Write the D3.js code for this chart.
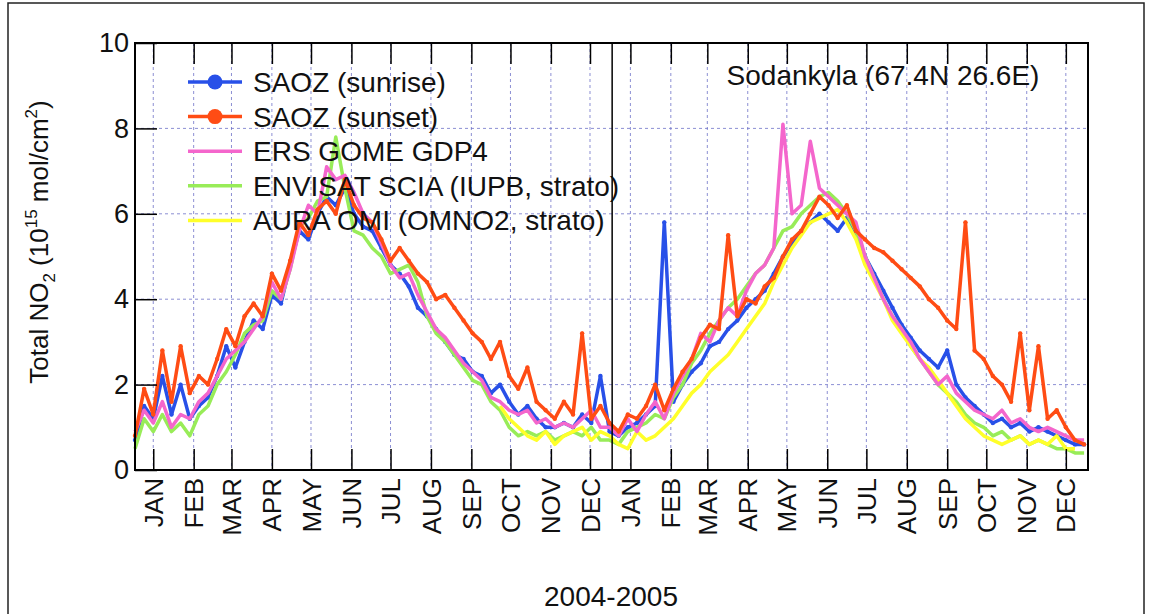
<!DOCTYPE html>
<html>
<head>
<meta charset="utf-8">
<style>
	body { margin: 0; background: #fff; }
	text { font-family: "Liberation Sans", Arial, sans-serif; fill: #111; }
</style>
</head>
<body>
<svg id="chart" width="1151" height="614"></svg>
<script src="https://cdnjs.cloudflare.com/ajax/libs/d3/7.8.5/d3.min.js"></script>
<script>
	// weekly values, starting 2004-01-01
	var start = new Date(2004, 0, 1);
	var omiStart = new Date(2004, 9, 7);

	var saozSunset = [0.8,1.9,1.3,2.8, 1.6,2.9,1.8,2.2, 2.0,2.6,3.3,2.9,3.6, 3.9,3.6,4.6,4.2, 4.9,5.8,5.5,6.1, 6.3,6.0,6.8,6.2,5.9, 5.8,5.4,4.9,5.2, 4.9,4.6,4.4,4.0,4.1, 3.8,3.5,3.2,3.0, 2.6,3.0,2.2,1.9,2.4, 1.6,1.4,1.2,1.6, 1.3,3.2,1.2,1.5,
		1.1,0.9,1.3,1.2, 1.5,2.0,1.4,1.9, 2.3,2.6,3.1,3.4,3.3, 5.5,3.6,4.0,3.9, 4.3,4.5,5.0,5.4, 5.6,6.0,6.4,6.2,5.9, 6.2,5.6,5.4,5.2, 5.1,4.9,4.7,4.5,4.3, 4.0,3.8,3.5,3.3, 5.8,2.8,2.6,2.2,2.0, 1.6,3.2,1.4,2.9, 1.2,1.4,1.0,0.7, 0.6];
	var saozSunrise = [0.7,1.5,1.2,2.2, 1.3,2.0,1.2,1.5, 1.7,2.2,2.9,2.4,3.0, 3.5,3.3,4.1,3.9, 4.8,5.6,5.4,6.0, 6.4,6.2,6.6,6.0,5.7, 5.6,5.2,4.8,4.6, 4.3,3.8,3.6,3.3,3.0, 2.7,2.6,2.3,2.2, 1.8,2.0,1.6,1.3,1.5, 1.2,1.0,1.0,1.1, 1.0,1.3,1.1,2.2,
		0.9,0.8,1.0,1.1, 1.3,1.5,5.8,1.6, 2.0,2.3,2.5,2.9,3.0, 3.3,3.5,3.8,4.0, 4.2,4.6,5.0,5.3, 5.6,5.8,6.0,5.8,5.6, 5.9,5.5,5.0,4.6, 4.2,3.8,3.4,3.1,2.8, 2.6,2.4,2.8,2.0, 1.7,1.5,1.3,1.1,1.2, 1.0,1.1,0.9,1.0, 0.9,0.8,0.7,0.6, 0.6];
	var gome = [0.9,1.4,1.1,1.6, 1.0,1.3,1.2,1.6, 1.8,2.2,2.6,2.8,3.0, 3.3,3.6,4.4,4.0, 4.7,5.6,6.2,6.0, 7.1,6.8,6.9,6.5,6.0, 5.8,5.3,4.8,4.5, 4.6,4.1,3.7,3.3,3.1, 2.8,2.5,2.3,2.1, 1.7,1.6,1.4,1.3,1.4, 1.1,1.2,1.0,1.1, 1.0,1.2,1.4,1.0,
		1.0,0.8,1.2,0.9, 1.3,1.6,1.2,1.8, 2.2,2.6,3.2,3.0,3.5, 3.8,3.6,4.2,4.6, 4.8,5.2,8.1,6.0, 6.2,7.7,6.6,6.4,6.2, 6.0,5.8,5.0,4.5, 4.0,3.6,3.3,3.0,2.6, 2.3,2.0,2.2,1.8, 1.6,1.4,1.3,1.2,1.4, 1.1,1.2,1.0,0.9, 1.0,0.9,0.8,0.7, 0.7];
	var scia = [0.5,1.2,0.9,1.3, 0.9,1.1,0.8,1.3, 1.5,2.0,2.3,2.7,3.2, 3.4,3.5,4.2,4.0, 4.7,5.7,5.9,6.3, 6.4,7.8,6.6,5.6,5.5, 5.2,5.0,4.6,4.7, 4.8,4.4,3.6,3.2,3.0, 2.7,2.4,2.1,2.0, 1.6,1.4,1.0,0.8,0.9, 0.8,0.9,0.7,0.8, 0.9,0.8,1.0,0.7,
		0.7,0.6,0.9,1.0, 1.1,1.3,1.2,1.7, 2.0,2.5,2.8,3.2,3.5, 3.8,4.0,4.3,4.6, 4.8,5.2,5.6,5.7, 6.0,6.2,6.4,6.5,6.3, 6.0,5.6,5.0,4.5, 4.0,3.6,3.3,2.9,2.6, 2.3,2.0,1.8,1.6, 1.3,1.1,1.0,0.8,0.9, 0.7,0.8,0.6,0.7, 0.6,0.5,0.5,0.4, 0.4];
	var omi = [1.5,1.2,1.0,0.8, 0.7,0.9,0.6,0.8, 0.9,1.0,0.7,0.9,
		0.8,0.6,0.5,0.9, 0.7,0.8,1.0,1.2, 1.5,1.8,2.0,2.3,2.5, 2.7,3.0,3.3,3.6, 3.9,4.4,4.8,5.2, 5.5,5.8,5.9,6.0,6.1, 5.8,5.4,4.8,4.4, 4.0,3.5,3.2,2.9,2.6, 2.4,2.1,1.8,1.5, 1.2,1.0,0.8,0.7,0.6, 0.7,0.8,0.6,0.7, 0.6,0.8,0.5,0.5];

	var monthLabels = ["JAN","FEB","MAR","APR","MAY","JUN","JUL","AUG","SEP","OCT","NOV","DEC"];
	var yTicks = [0, 2, 4, 6, 8, 10];
	var legendNames = ["SAOZ (sunrise)", "SAOZ (sunset)", "ERS GOME GDP4", "ENVISAT SCIA (IUPB, strato)", "AURA OMI (OMNO2, strato)"];
	var colors = ["#2850e8", "#ff4c14", "#f466cc", "#98ec58", "#ffff2a"];

	var svg = d3.select("#chart");
	var L = 135, R = 1088, T = 43, B = 470;

	var x = d3.scaleTime().domain([new Date(2004, 0, 1), new Date(2006, 0, 1)]).range([L, R]);
	var y = d3.scaleLinear().domain([0, 10]).range([B, T]);

	function weekly(arr, d0) {
		return arr.map(function (v, i) { return { d: d3.timeDay.offset(d0, i * 7), v: v }; });
	}

	// outer frame
	svg.append("rect").attr("x", 8).attr("y", 3).attr("width", 1136).attr("height", 620)
		.attr("fill", "none").attr("stroke", "#222").attr("stroke-width", 1.5);

	var midMonths = d3.timeMonth.range(new Date(2004, 0, 1), new Date(2006, 0, 1))
		.map(function (m) { return new Date(m.getFullYear(), m.getMonth(), 15); });

	// grid
	var g = svg.append("g");
	g.selectAll(".vg").data(midMonths).enter().append("line")
		.attr("x1", function (d) { return x(d); }).attr("x2", function (d) { return x(d); })
		.attr("y1", T).attr("y2", B)
		.attr("stroke", "#6f72c8").attr("stroke-width", 0.8).attr("stroke-dasharray", "3,3");
	g.selectAll(".hg").data(yTicks.slice(1, -1)).enter().append("line")
		.attr("x1", L).attr("x2", R)
		.attr("y1", function (d) { return y(d); }).attr("y2", function (d) { return y(d); })
		.attr("stroke", "#6f72c8").attr("stroke-width", 0.8).attr("stroke-dasharray", "3,3");

	// series
	var line = d3.line().x(function (d) { return x(d.d); }).y(function (d) { return y(d.v); });
	var series = [
		{ data: weekly(saozSunrise, start), c: colors[0], dots: true },
		{ data: weekly(scia, start), c: colors[3] },
		{ data: weekly(omi, omiStart), c: colors[4] },
		{ data: weekly(gome, start), c: colors[2] },
		{ data: weekly(saozSunset, start), c: colors[1], dots: true }
	];
	series.forEach(function (s) {
		svg.append("path").datum(s.data).attr("d", line)
			.attr("fill", "none").attr("stroke", s.c).attr("stroke-width", 3.5).attr("stroke-linejoin", "round");
		if (s.dots) {
			svg.append("g").selectAll("circle").data(s.data).enter().append("circle")
				.attr("cx", function (d) { return x(d.d); }).attr("cy", function (d) { return y(d.v); })
				.attr("r", 2.2).attr("fill", s.c);
		}
	});

	// axes box and ticks
	svg.append("rect").attr("x", L).attr("y", T).attr("width", R - L).attr("height", B - T)
		.attr("fill", "none").attr("stroke", "#000").attr("stroke-width", 2);
	svg.append("line").attr("x1", x(new Date(2005, 0, 1))).attr("x2", x(new Date(2005, 0, 1)))
		.attr("y1", T).attr("y2", B).attr("stroke", "#000").attr("stroke-width", 1.5);

	var bottomAxis = svg.append("g").attr("transform", "translate(0," + B + ")")
		.call(d3.axisBottom(x).tickValues(midMonths).tickSize(-21).tickFormat(function (d) { return monthLabels[d.getMonth()]; }));
	bottomAxis.select(".domain").remove();
	bottomAxis.selectAll("line").attr("stroke-width", 1.5);
	bottomAxis.selectAll("text").attr("transform", "rotate(-90)").attr("text-anchor", "end")
		.attr("x", -8).attr("y", 0).attr("dy", "0.35em").style("font-size", "26px");

	var topAxis = svg.append("g").attr("transform", "translate(0," + T + ")")
		.call(d3.axisTop(x).tickValues(midMonths).tickSize(-21).tickFormat(""));
	topAxis.select(".domain").remove();
	topAxis.selectAll("line").attr("stroke-width", 1.5);

	var leftAxis = svg.append("g").attr("transform", "translate(" + L + ",0)")
		.call(d3.axisLeft(y).tickValues(yTicks).tickSize(-22).tickPadding(6));
	leftAxis.select(".domain").remove();
	leftAxis.selectAll("line").attr("stroke-width", 1.5);
	leftAxis.selectAll("text").style("font-size", "27px");

	// labels
	svg.append("text").attr("x", 883).attr("y", 85).attr("text-anchor", "middle")
		.style("font-size", "28px").text("Sodankyla (67.4N 26.6E)");
	svg.append("text").attr("x", 611).attr("y", 606).attr("text-anchor", "middle")
		.style("font-size", "28px").text("2004-2005");
	var yl = svg.append("text").attr("transform", "translate(48,242) rotate(-90)")
		.attr("text-anchor", "middle").style("font-size", "26px");
	yl.append("tspan").text("Total NO");
	yl.append("tspan").attr("dy", 7).style("font-size", "17px").text("2");
	yl.append("tspan").attr("dy", -7).text(" (10");
	yl.append("tspan").attr("dy", -11).style("font-size", "17px").text("15");
	yl.append("tspan").attr("dy", 11).text(" mol/cm");
	yl.append("tspan").attr("dy", -11).style("font-size", "17px").text("2");
	yl.append("tspan").attr("dy", 11).text(")");

	// legend
	var leg = svg.append("g").selectAll("g").data(legendNames).enter().append("g")
		.attr("transform", function (d, i) { return "translate(188," + (82 + i * 34.6) + ")"; });
	leg.append("line").attr("x1", 0).attr("x2", 54).attr("stroke", function (d, i) { return colors[i]; })
		.attr("stroke-width", 3.5);
	leg.filter(function (d, i) { return i < 2; }).append("circle").attr("cx", 27).attr("r", 7.5)
		.attr("fill", function (d, i) { return colors[i]; });
	leg.append("text").attr("x", 65).attr("dy", "0.36em").style("font-size", "28px").text(function (d) { return d; });
</script>
</body>
</html>
